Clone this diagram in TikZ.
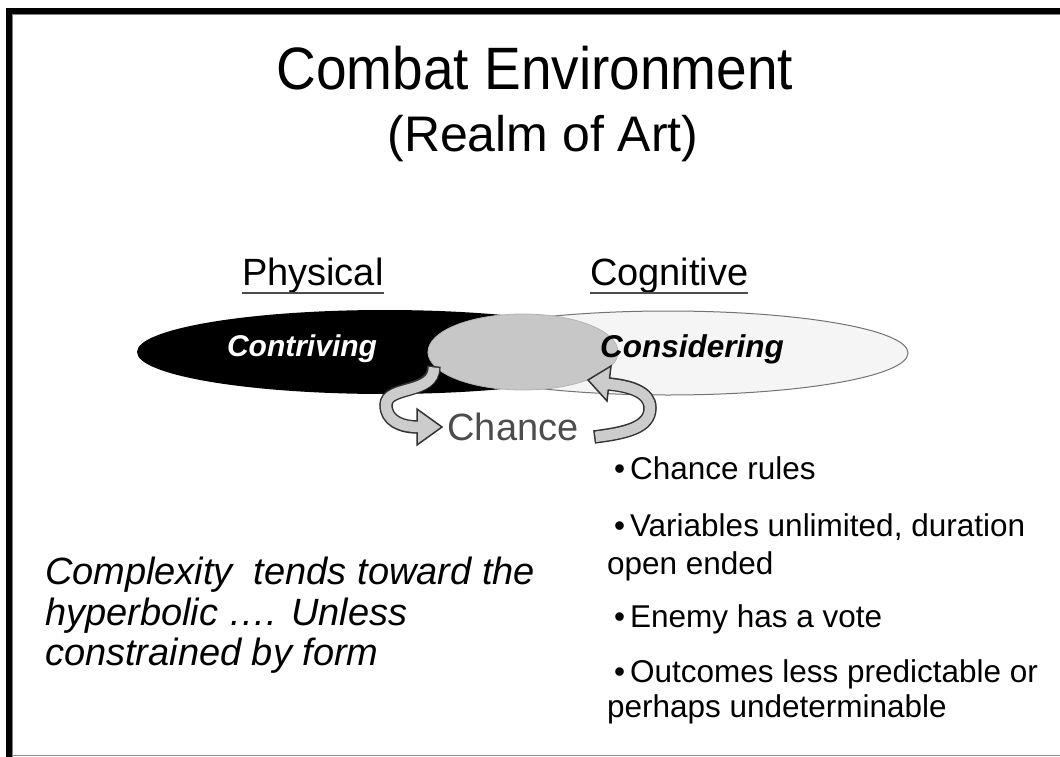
\documentclass[tikz,border=0pt]{standalone}
\usepackage{fontspec}
\setmainfont{Liberation Sans}
\begin{document}
\begin{tikzpicture}[x=1pt,y=-1pt,
  txt/.style={inner sep=0pt,outer sep=0pt},
  bandout/.style={line width=13.5pt,draw=black!80},
  bandin/.style={line width=10.5pt,draw=black!20},
  head/.style={fill=black!20,draw=black!80,line width=1.5pt,line join=miter}]
\useasboundingbox[fill=white] (0,0) rectangle (1060,757);
% frame
\fill[black] (6,8) rectangle (1060,14);
\fill[black] (6,8) rectangle (12,757);
\draw[black!50,line width=1pt] (12,14.5) -- (1060,14.5);
\draw[black!50,line width=1pt] (12.5,14) -- (12.5,757);
\draw[black!45,line width=1.2pt] (12,755.5) -- (1060,755.5);
% title
\node[txt,anchor=base,xscale=0.965,yscale=1.05] (title) at (535,90) {\fontsize{57}{60}\selectfont Combat Environment};
\node[txt,anchor=base] (sub) at (543,152) {\fontsize{50}{54}\selectfont (Realm of Art)};
% headings
\node[txt,anchor=base west] (phys) at (242,285) {\fontsize{38}{40}\selectfont Physical};
\node[txt,anchor=base west] (cogn) at (590,285) {\fontsize{38}{40}\selectfont Cognitive};
\draw[black!70,line width=1.5pt] ([yshift=-8pt]phys.base west) -- ([yshift=-8pt]phys.base east);
\draw[black!70,line width=1.5pt] ([yshift=-8pt]cogn.base west) -- ([yshift=-8pt]cogn.base east);
% ellipses
\fill[black] (385,352) ellipse [x radius=248,y radius=42];
\filldraw[fill=black!4,draw=black!55,line width=1pt] (668,353) ellipse [x radius=240,y radius=42];
\filldraw[fill=black!22,draw=black!30,line width=0.8pt] (523,352) ellipse [x radius=95,y radius=38];
\node[txt,anchor=base,text=white] (contr) at (302,356) {\fontsize{30}{32}\selectfont\bfseries\itshape Contriving};
\node[txt,anchor=base] (consid) at (692,357) {\fontsize{31.5}{33}\selectfont\bfseries\itshape Considering};
% chance
\node[txt,anchor=base,text=black!70] (chance) at (513,440) {\fontsize{38}{40}\selectfont Chance};
% left curved arrow
\coordinate (la0) at (434,366);
\coordinate (la1) at (418,427);
\draw[bandout] (la0) .. controls (434,395) and (386,385) .. (386,405) .. controls (386,420) and (400,427) .. (la1);
\draw[head] (417,409) -- (442,427) -- (417,445) -- cycle;
\draw[bandin,shorten <=1.5pt] (la0) .. controls (434,395) and (386,385) .. (386,405) .. controls (386,420) and (400,427) .. ([xshift=1.5pt]la1);
% right curved arrow
\coordinate (ra0) at (594,437);
\coordinate (ra1) at (609,384);
\draw[bandout] (ra0) .. controls (625,433) and (650,428) .. (650,408) .. controls (650,392) and (630,386) .. (ra1);
\draw[head] (611,366) -- (588,380) -- (607,401) -- cycle;
\draw[bandin,shorten <=1.5pt] (ra0) .. controls (625,433) and (650,428) .. (650,408) .. controls (650,392) and (630,386) .. ([xshift=-1.5pt]ra1);
% bullets
\node[txt,anchor=base west] (b1) at (614,479) {\fontsize{31.5}{34}\selectfont •\hspace{5pt}Chance rules};
\node[txt,anchor=base west] (b2) at (614,536) {\fontsize{31.5}{34}\selectfont •\hspace{5pt}Variables unlimited, duration};
\node[txt,anchor=base west] (b2b) at (607,574) {\fontsize{31.5}{34}\selectfont open ended};
\node[txt,anchor=base west] (b3) at (614,627) {\fontsize{31.5}{34}\selectfont •\hspace{5pt}Enemy has a vote};
\node[txt,anchor=base west] (b4) at (614,682) {\fontsize{31.5}{34}\selectfont •\hspace{5pt}Outcomes less predictable or};
\node[txt,anchor=base west] (b4b) at (607,717) {\fontsize{31.5}{34}\selectfont perhaps undeterminable};
% left text
\node[txt,anchor=base west] (c1) at (45,584) {\fontsize{38}{40}\selectfont\itshape Complexity\ \ tends toward the};
\node[txt,anchor=base west] (c2) at (45,625) {\fontsize{38}{40}\selectfont\itshape hyperbolic …. Unless};
\node[txt,anchor=base west] (c3) at (45,665) {\fontsize{38}{40}\selectfont\itshape constrained by form};
\end{tikzpicture}
\end{document}
